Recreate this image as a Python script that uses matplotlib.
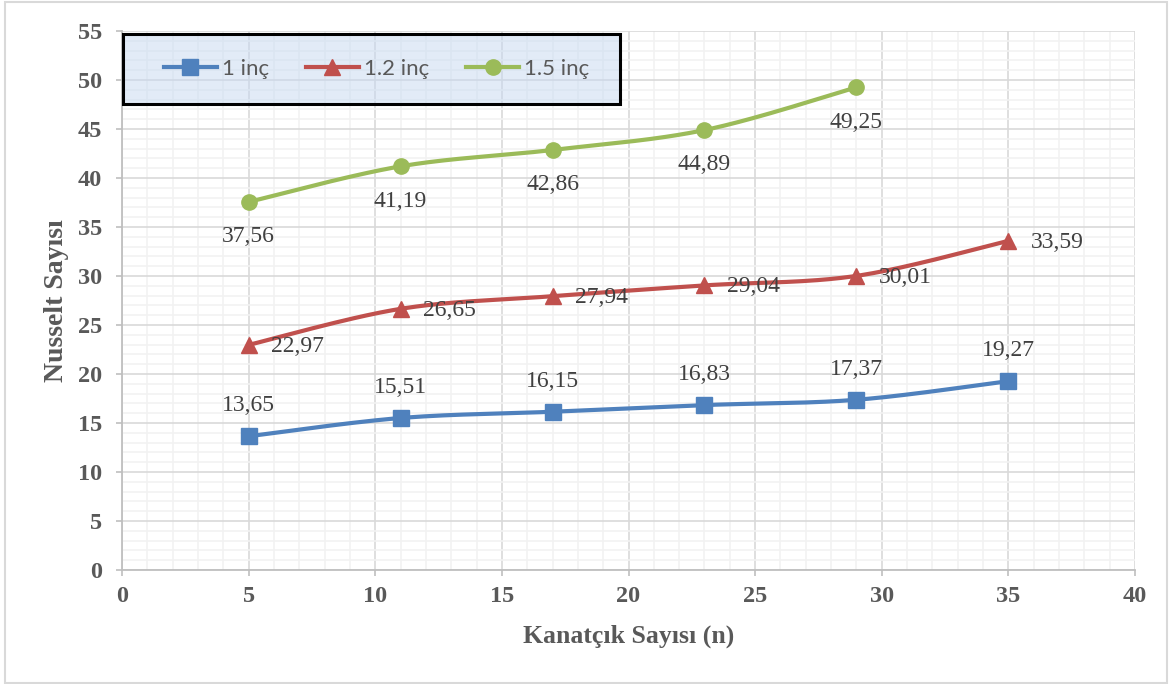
import numpy as np
import matplotlib
matplotlib.use("Agg")
import matplotlib.pyplot as plt
from matplotlib.patches import Rectangle
from matplotlib.lines import Line2D
from matplotlib.ticker import MultipleLocator

# Fin counts and Nusselt numbers for three fin diameters
fins_1in = [5, 11, 17, 23, 29, 35]
nu_1in = [13.65, 15.51, 16.15, 16.83, 17.37, 19.27]

fins_12in = [5, 11, 17, 23, 29, 35]
nu_12in = [22.97, 26.65, 27.94, 29.04, 30.01, 33.59]

fins_15in = [5, 11, 17, 23, 29]
nu_15in = [37.56, 41.19, 42.86, 44.89, 49.25]

series_names = ["1 inç", "1.2 inç", "1.5 inç"]
x_ticks = [0, 5, 10, 15, 20, 25, 30, 35, 40]
y_ticks = [0, 5, 10, 15, 20, 25, 30, 35, 40, 45, 50, 55]

BLUE = "#4F81BD"
RED = "#C0504D"
GREEN = "#9BBB59"
SERIF = ["Liberation Serif", "DejaVu Serif"]


def smooth_curve(x, y, n=40):
    """Catmull-Rom style Bezier smoothing through every point."""
    p = np.column_stack([x, y]).astype(float)
    ext = np.vstack([p[0], p, p[-1]])
    out = []
    t = np.linspace(0, 1, n)[:, None]
    for i in range(len(p) - 1):
        p0, p1, p2, p3 = ext[i], ext[i + 1], ext[i + 2], ext[i + 3]
        c1 = p1 + (p2 - p0) / 6.0
        c2 = p2 - (p3 - p1) / 6.0
        seg = ((1 - t) ** 3) * p1 + 3 * ((1 - t) ** 2) * t * c1 + 3 * (1 - t) * t ** 2 * c2 + t ** 3 * p2
        out.append(seg if i == 0 else seg[1:])
    arr = np.vstack(out)
    return arr[:, 0], arr[:, 1]


def fmt(v):
    return f"{v:.2f}".replace(".", ",")


fig = plt.figure(figsize=(11.71, 6.84), dpi=100)
ax = fig.add_axes([122 / 1171, 1 - 570 / 684, (1135 - 122) / 1171, (570 - 31) / 684])

ax.set_xlim(0, 40)
ax.set_ylim(0, 55)
ax.set_xticks(x_ticks)
ax.set_yticks(y_ticks)
ax.xaxis.set_minor_locator(MultipleLocator(1))
ax.yaxis.set_minor_locator(MultipleLocator(1))
ax.grid(which="minor", color="#F2F2F2", linewidth=1.2)
ax.grid(which="major", color="#D9D9D9", linewidth=1.2)
ax.set_axisbelow(True)

for side in ("top", "right"):
    ax.spines[side].set_visible(False)
for side in ("left", "bottom"):
    ax.spines[side].set_color("#BFBFBF")
    ax.spines[side].set_linewidth(1.3)

ax.tick_params(which="major", length=4.5, width=1.2, color="#BFBFBF",
               labelsize=17.5, labelcolor="#595959")
ax.tick_params(axis="x", which="major", pad=7)
ax.tick_params(axis="y", which="major", pad=10)
ax.tick_params(which="minor", length=0)
for lab in ax.get_xticklabels() + ax.get_yticklabels():
    lab.set_family(SERIF)
    lab.set_fontweight("bold")

styles = [
    (fins_1in, nu_1in, BLUE, "s", (0, 22), "center", "center"),
    (fins_12in, nu_12in, RED, "^", (16, -1), "left", "center"),
    (fins_15in, nu_15in, GREEN, "o", (0, -25), "center", "center"),
]

handles = []
for (xs, ys, col, mk, off, ha, va), name in zip(styles, series_names):
    sx, sy = smooth_curve(xs, ys)
    ax.plot(sx, sy, color=col, linewidth=3, solid_capstyle="round", zorder=3)
    ax.plot(xs, ys, linestyle="none", marker=mk, markersize=11, color=col,
            markeredgecolor=col, zorder=4)
    for x, y in zip(xs, ys):
        ax.annotate(fmt(y), (x, y), xytext=off, textcoords="offset points",
                    ha=ha, va=va, fontsize=17, family=SERIF, color="#404040", zorder=5)
    handles.append(Line2D([], [], color=col, linewidth=3, marker=mk, markersize=11,
                          markeredgecolor=col))

ax.set_xlabel("Kanatçık Sayısı (n)", family=SERIF, fontweight="bold", fontsize=18.5,
              color="#595959", labelpad=13)
ax.set_ylabel("Nusselt Sayısı", family=SERIF, fontweight="bold", fontsize=20,
              color="#595959", labelpad=6)

# Legend box with translucent fill and a heavy black frame
lx0, lx1, ly0, ly1 = 123 / 1171, 620 / 1171, 1 - 104 / 684, 1 - 34 / 684
fig.patches.append(Rectangle((lx0, ly0), lx1 - lx0, ly1 - ly0, transform=fig.transFigure,
                             facecolor="#C6D9F1", alpha=0.5, edgecolor="none", zorder=6))
fig.patches.append(Rectangle((lx0, ly0), lx1 - lx0, ly1 - ly0, transform=fig.transFigure,
                             facecolor="none", edgecolor="black", linewidth=2.2, zorder=7))
leg = fig.legend(handles, series_names, loc="center", ncol=3, frameon=False,
                 bbox_to_anchor=((lx0 + lx1) / 2 + 5 / 1171, (ly0 + ly1) / 2),
                 prop={"family": ["Lato", "DejaVu Sans"], "size": 16},
                 handlelength=2.4, handletextpad=0.22, columnspacing=1.65,
                 labelcolor="#595959")
leg.set_zorder(8)

# Outer chart border
fig.patches.append(Rectangle((0.004, 0.002), 0.993, 0.995, transform=fig.transFigure,
                             facecolor="none", edgecolor="#D9D9D9", linewidth=1.5))

fig.savefig("out.png", dpi=100, facecolor="white")
